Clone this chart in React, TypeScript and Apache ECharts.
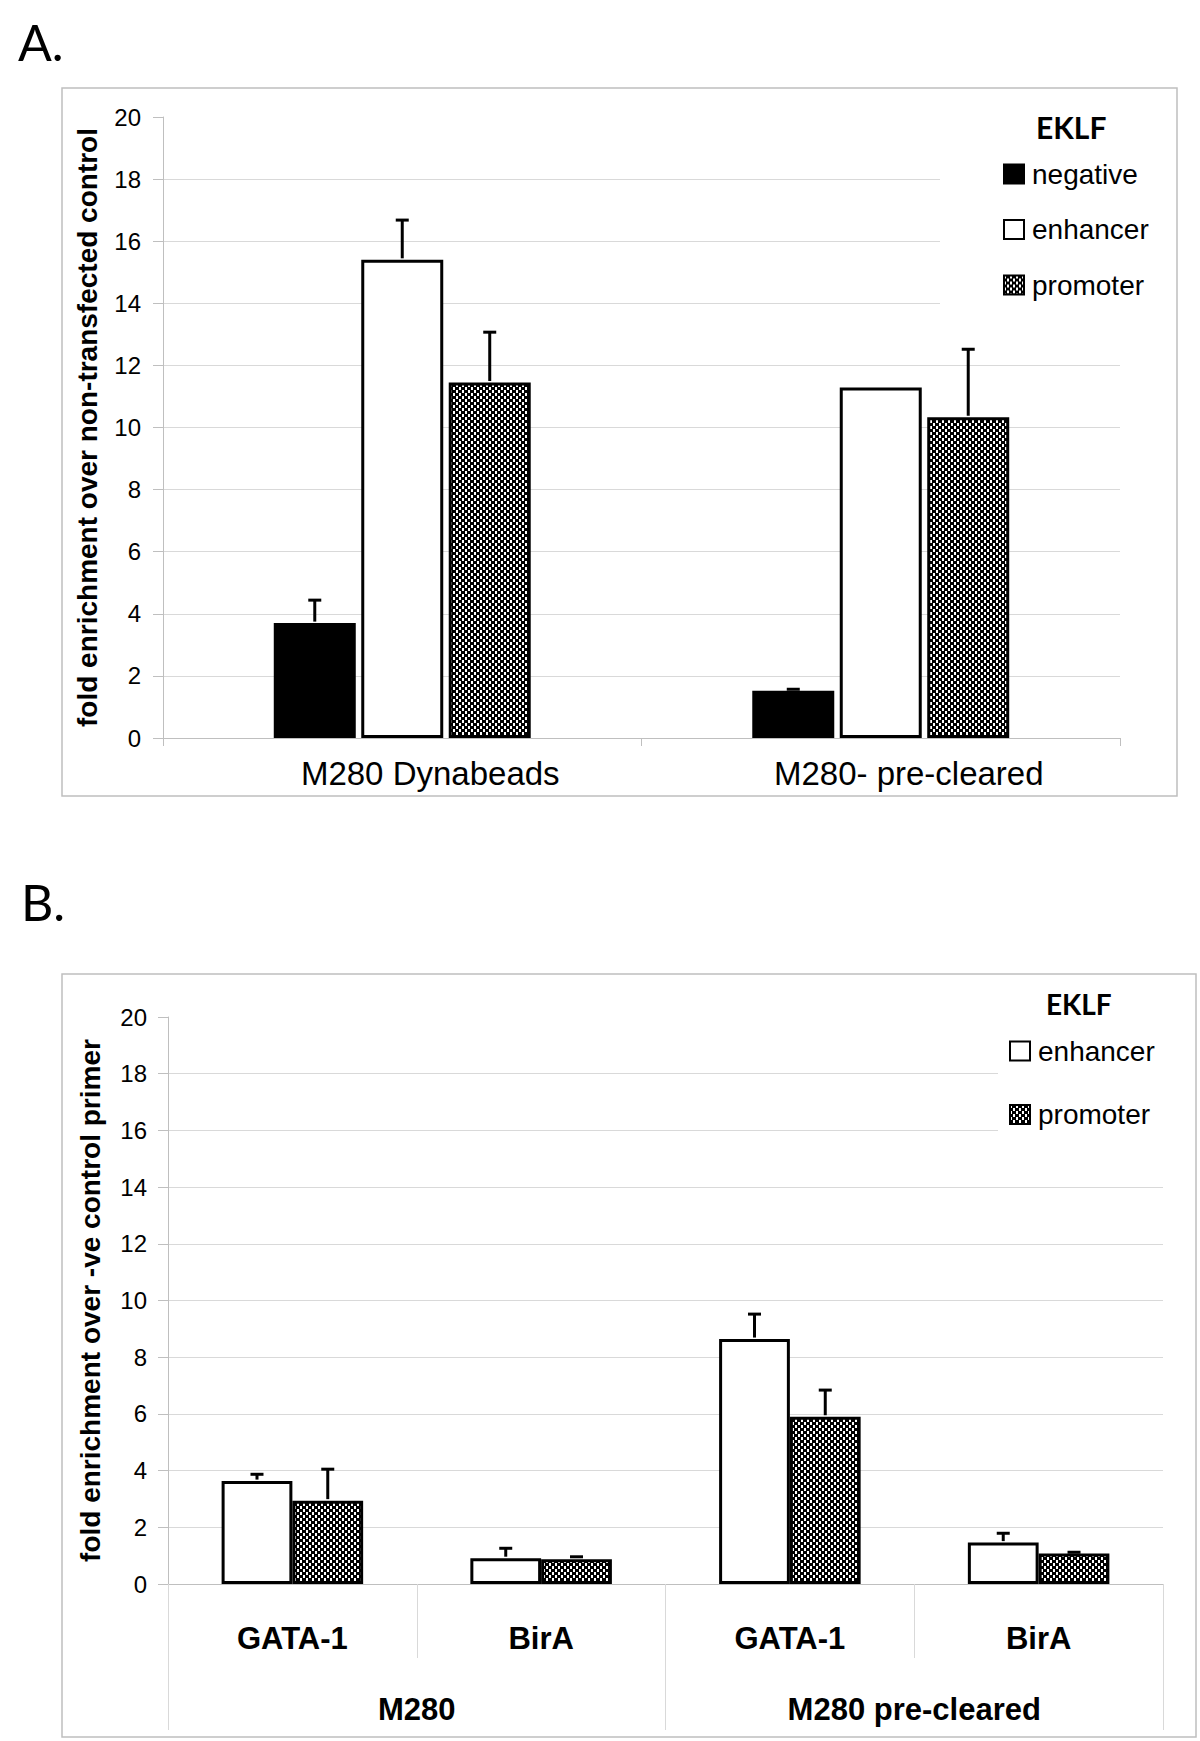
import React, { useEffect, useRef } from "react";
import * as echarts from "echarts";

// ---------- data ----------
const Y_MIN = 0;
const Y_MAX = 20;
const Y_STEP = 2;
const yTicks = [0, 2, 4, 6, 8, 10, 12, 14, 16, 18, 20];

const categoriesA = ["M280 Dynabeads", "M280- pre-cleared"];
const legendA = ["negative", "enhancer", "promoter"];
const negativeA = [3.7, 1.52];
const negativeErrA = [0.74, 0.05];
const enhancerA = [15.4, 11.29];
const enhancerErrA = [1.28, 0];
const promoterA = [11.45, 10.33];
const promoterErrA = [1.62, 2.19];
const yTitleA = "fold enrichment over non-transfected control";

const targetsB = ["GATA-1", "BirA", "GATA-1", "BirA"];
const beadsB = ["M280", "M280 pre-cleared"];
const legendB = ["enhancer", "promoter"];
const enhancerB = [3.63, 0.91, 8.64, 1.46];
const enhancerErrB = [0.24, 0.35, 0.88, 0.33];
const promoterB = [2.94, 0.87, 5.9, 1.08];
const promoterErrB = [1.11, 0.09, 0.94, 0.04];
const yTitleB = "fold enrichment over -ve control primer";

// ---------- styles ----------
const ARIAL = "'Liberation Sans', Arial, sans-serif";
const CALIBRI = "Lato, 'Open Sans', sans-serif";
const AXIS_GRAY = "#bfbfbf";
const GRID_GRAY = "#d9d9d9";

function checkerPattern(): any {
  const c = document.createElement("canvas");
  c.width = 6;
  c.height = 6;
  const ctx = c.getContext("2d")!;
  ctx.fillStyle = "#000000";
  ctx.fillRect(0, 0, 6, 6);
  ctx.fillStyle = "#ffffff";
  ctx.fillRect(0, 0, 2, 3);
  ctx.fillRect(3, 3, 2, 3);
  return { image: c.toDataURL(), repeat: "repeat", imageWidth: 6, imageHeight: 6 };
}

function buildOption(): any {
  const pattern = checkerPattern();
  const styleOf: Record<string, any> = {
    negative: { color: "#000", borderColor: "#000", borderWidth: 3 },
    enhancer: { color: "#fff", borderColor: "#000", borderWidth: 3 },
    promoter: { color: pattern, borderColor: "#000", borderWidth: 3 },
  };

  const gridColors = yTicks.map((t) => (t === Y_MAX ? "rgba(0,0,0,0)" : GRID_GRAY));

  const catGapA = 0.463;
  const barGapA = 0.067;
  const catGapB = 0.431;
  const barGapB = 0;

  const makeErr = (
    values: number[],
    errs: number[],
    idx: number,
    n: number,
    catGap: number,
    gap: number,
    axis: number
  ) => ({
    type: "custom",
    xAxisIndex: axis === 0 ? 0 : 1,
    yAxisIndex: axis,
    z: 5,
    silent: true,
    encode: { x: 0, y: 1 },
    data: values.map((v, i) => [i, v, errs[i]]).filter((d) => d[2] > 0),
    renderItem: (params: any, api: any) => {
      const ci = api.value(0);
      const v = api.value(1);
      const e = api.value(2);
      const base = api.coord([ci, v]);
      const top = api.coord([ci, v + e]);
      const catW = api.size([1, 0])[0];
      const bandW = catW * (1 - catGap);
      const bw = bandW / (n + (n - 1) * gap);
      const x = base[0] - bandW / 2 + idx * bw * (1 + gap) + bw / 2;
      const cap = 6.5;
      return {
        type: "group",
        children: [
          {
            type: "line",
            shape: { x1: x, y1: base[1] - 1.5, x2: x, y2: top[1] },
            style: { stroke: "#000", lineWidth: 3 },
          },
          {
            type: "line",
            shape: { x1: x - cap, y1: top[1], x2: x + cap, y2: top[1] },
            style: { stroke: "#000", lineWidth: 3 },
          },
        ],
      };
    },
  });

  const valuesA: Record<string, number[]> = { negative: negativeA, enhancer: enhancerA, promoter: promoterA };
  const errsA: Record<string, number[]> = { negative: negativeErrA, enhancer: enhancerErrA, promoter: promoterErrA };
  const valuesB: Record<string, number[]> = { enhancer: enhancerB, promoter: promoterB };
  const errsB: Record<string, number[]> = { enhancer: enhancerErrB, promoter: promoterErrB };

  const series: any[] = [];
  legendA.forEach((name) => {
    series.push({
      type: "bar",
      name,
      xAxisIndex: 0,
      yAxisIndex: 0,
      data: valuesA[name],
      itemStyle: styleOf[name],
      barCategoryGap: `${catGapA * 100}%`,
      barGap: `${barGapA * 100}%`,
      silent: true,
    });
  });
  legendA.forEach((name, i) => {
    series.push(makeErr(valuesA[name], errsA[name], i, legendA.length, catGapA, barGapA, 0));
  });
  legendB.forEach((name) => {
    series.push({
      type: "bar",
      name,
      xAxisIndex: 1,
      yAxisIndex: 1,
      data: valuesB[name],
      itemStyle: styleOf[name],
      barCategoryGap: `${catGapB * 100}%`,
      barGap: `${barGapB * 100}%`,
      silent: true,
    });
  });
  legendB.forEach((name, i) => {
    series.push(makeErr(valuesB[name], errsB[name], i, legendB.length, catGapB, barGapB, 1));
  });

  const yAxisBase = (gridIndex: number, name: string, nameGap: number, labelMargin: number) => ({
    type: "value",
    gridIndex,
    min: Y_MIN,
    max: Y_MAX,
    interval: Y_STEP,
    name,
    nameLocation: "middle",
    nameGap,
    nameTextStyle: {
      fontFamily: ARIAL,
      fontWeight: "bold",
      fontSize: 28,
      color: "#000",
      lineHeight: 28,
    },
    axisLine: { show: true, lineStyle: { color: AXIS_GRAY, width: 1 } },
    axisTick: { show: true, length: 10, lineStyle: { color: AXIS_GRAY, width: 1 } },
    axisLabel: { fontFamily: ARIAL, fontSize: 24, color: "#000", margin: labelMargin },
    splitLine: { show: true, lineStyle: { color: gridColors, width: 1 } },
  });

  const legendText = {
    fontFamily: ARIAL,
    fontSize: 28,
    color: "#000",
    lineHeight: 27,
    padding: [0, 0, 0, 3],
  };

  return {
    animation: false,
    backgroundColor: "#ffffff",
    grid: [
      { left: 163, right: 1200 - 1120, top: 117, bottom: 1741 - 738, containLabel: false },
      { left: 168, right: 1200 - 1163, top: 1017, bottom: 1741 - 1584, containLabel: false },
    ],
    xAxis: [
      {
        type: "category",
        gridIndex: 0,
        data: categoriesA,
        axisLine: { show: true, lineStyle: { color: AXIS_GRAY, width: 1 } },
        axisTick: { show: true, interval: 0, length: 8, lineStyle: { color: AXIS_GRAY } },
        axisLabel: {
          interval: 0,
          fontFamily: ARIAL,
          fontSize: 33,
          lineHeight: 33,
          color: "#000",
          margin: 19,
          padding: [0, 0, 0, 56],
        },
        splitLine: { show: false },
      },
      {
        type: "category",
        gridIndex: 1,
        data: targetsB,
        position: "bottom",
        axisLine: { show: true, lineStyle: { color: AXIS_GRAY, width: 1 } },
        axisTick: { show: true, interval: 0, length: 74, lineStyle: { color: GRID_GRAY } },
        axisLabel: {
          interval: 0,
          fontFamily: ARIAL,
          fontWeight: "bold",
          fontSize: 31,
          lineHeight: 31,
          color: "#000",
          margin: 39,
        },
        splitLine: { show: false },
      },
      {
        type: "category",
        gridIndex: 1,
        data: beadsB,
        position: "bottom",
        offset: 0,
        axisLine: { show: false },
        axisTick: { show: true, interval: 0, length: 146, lineStyle: { color: GRID_GRAY } },
        axisLabel: {
          interval: 0,
          fontFamily: ARIAL,
          fontWeight: "bold",
          fontSize: 31,
          lineHeight: 31,
          color: "#000",
          margin: 110,
        },
        splitLine: { show: false },
      },
    ],
    yAxis: [yAxisBase(0, yTitleA, 62, 22), yAxisBase(1, yTitleB, 64, 21)],
    legend: [
      {
        data: legendA,
        orient: "vertical",
        left: 940,
        top: 150,
        padding: [10, 25, 35, 63],
        itemWidth: 20,
        itemHeight: 19,
        itemGap: 27.5,
        icon: "rect",
        backgroundColor: "#ffffff",
        itemStyle: { borderWidth: 2 },
        textStyle: legendText,
        selectedMode: false,
      },
      {
        data: legendB,
        orient: "vertical",
        left: 998,
        top: 1020,
        padding: [17, 25, 30, 11],
        itemWidth: 20,
        itemHeight: 19,
        itemGap: 35.5,
        icon: "rect",
        backgroundColor: "#ffffff",
        itemStyle: { borderWidth: 2 },
        textStyle: legendText,
        selectedMode: false,
      },
    ],
    graphic: [
      {
        type: "rect",
        shape: { x: 62, y: 88, width: 1177 - 62, height: 796 - 88 },
        style: { fill: "none", stroke: AXIS_GRAY, lineWidth: 1.5 },
        z: -10,
        silent: true,
      },
      {
        type: "rect",
        shape: { x: 62, y: 974, width: 1196 - 62, height: 1737 - 974 },
        style: { fill: "none", stroke: AXIS_GRAY, lineWidth: 1.5 },
        z: -10,
        silent: true,
      },
      {
        type: "text",
        x: 18,
        y: 42,
        style: { text: "A.", font: `50px ${CALIBRI}`, fill: "#000", textVerticalAlign: "middle" },
      },
      {
        type: "text",
        x: 21,
        y: 902,
        style: { text: "B.", font: `50px ${CALIBRI}`, fill: "#000", textVerticalAlign: "middle" },
      },
      {
        type: "text",
        x: 1036,
        y: 127,
        z: 20,
        style: { text: "EKLF", font: `bold 30px ${CALIBRI}`, fill: "#000", textVerticalAlign: "middle" },
      },
      {
        type: "text",
        x: 1046,
        y: 1004,
        z: 20,
        style: { text: "EKLF", font: `bold 28px ${CALIBRI}`, fill: "#000", textVerticalAlign: "middle" },
      },
    ],
    series,
  };
}

export default function App() {
  const ref = useRef<HTMLDivElement>(null);
  useEffect(() => {
    document.body.style.margin = "0";
    document.body.style.overflow = "hidden";
    if (!ref.current) return;
    const chart = echarts.init(ref.current, undefined, { renderer: "svg" });
    chart.setOption(buildOption());
    return () => {
      chart.dispose();
    };
  }, []);
  return <div ref={ref} style={{ width: 1200, height: 1741, background: "#fff" }} />;
}
